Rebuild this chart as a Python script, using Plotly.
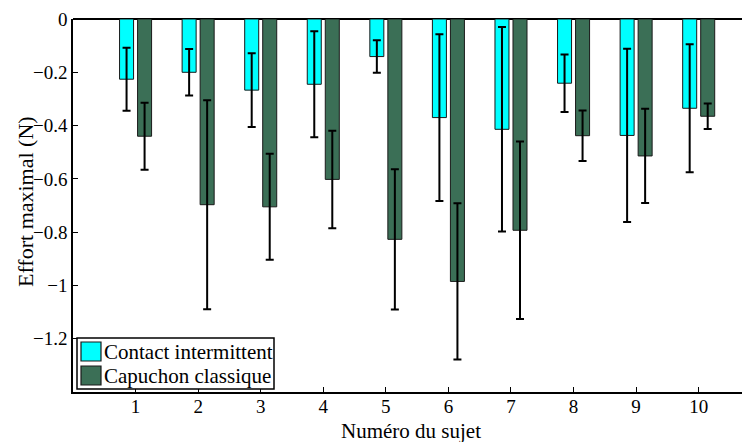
import plotly.graph_objects as go

subjects = [1, 2, 3, 4, 5, 6, 7, 8, 9, 10]
tick_labels = ["1", "2", "3", "4", "5", "6", "7", "8", "9", "10"]

contact_mean = [-0.226, -0.200, -0.267, -0.245, -0.141, -0.370, -0.414, -0.241, -0.437, -0.335]
contact_err = [0.118, 0.087, 0.138, 0.199, 0.061, 0.313, 0.384, 0.108, 0.325, 0.240]

capuchon_mean = [-0.440, -0.697, -0.705, -0.602, -0.827, -0.985, -0.793, -0.438, -0.514, -0.365]
capuchon_err = [0.126, 0.392, 0.199, 0.183, 0.263, 0.293, 0.333, 0.095, 0.177, 0.048]

series_names = ["Contact intermittent", "Capuchon classique"]
series_colors = ["#00FFFF", "#3B6F56"]

y_ticks = [0, -0.2, -0.4, -0.6, -0.8, -1.0, -1.2]
y_tick_labels = ["0", "\u22120.2", "\u22120.4", "\u22120.6", "\u22120.8", "\u22121", "\u22121.2"]

x_title = "Numéro du sujet"
y_title = "Effort maximal (N)"

FONT = "Liberation Serif"
EDGE = "#1a1a1a"

fig = go.Figure()
fig.add_trace(go.Bar(
    x=subjects, y=contact_mean, name=series_names[0],
    width=0.224, offset=-0.256,
    marker=dict(color=series_colors[0], line=dict(color=EDGE, width=1)),
    error_y=dict(type="data", array=contact_err, visible=True,
                 color="black", thickness=2, width=4),
))
fig.add_trace(go.Bar(
    x=subjects, y=capuchon_mean, name=series_names[1],
    width=0.224, offset=0.032,
    marker=dict(color=series_colors[1], line=dict(color=EDGE, width=1)),
    error_y=dict(type="data", array=capuchon_err, visible=True,
                 color="black", thickness=2, width=4),
))

# Custom legend box (MATLAB-style legend), in plot-area fractions
PW, PH = 677.0, 373.0  # plot area size in px


def fx(px):
    return px / PW


def fy(py):
    return py / PH


shapes = [
    dict(type="rect", xref="paper", yref="paper",
         x0=fx(4), x1=fx(201), y0=fy(3), y1=fy(54),
         line=dict(color="black", width=1.5), fillcolor="white", layer="above"),
]
annotations = []
swatch_tops = [50, 26]  # px from plot bottom (top edge of swatch)
for name, color, top in zip(series_names, series_colors, swatch_tops):
    shapes.append(dict(type="rect", xref="paper", yref="paper",
                       x0=fx(8), x1=fx(28), y0=fy(top - 19), y1=fy(top),
                       line=dict(color=EDGE, width=1.2), fillcolor=color, layer="above"))
    annotations.append(dict(text=name, xref="paper", yref="paper",
                            x=fx(29), y=fy(top - 9.5), xanchor="left", yanchor="middle",
                            showarrow=False, font=dict(family=FONT, size=21, color="black")))

# axis titles placed as text to match the reference positions
annotations.append(dict(text=y_title, xref="paper", yref="paper",
                        x=fx(-48), y=fy(190), xanchor="center", yanchor="middle",
                        textangle=-90, showarrow=False,
                        font=dict(family=FONT, size=22, color="black")))
annotations.append(dict(text=x_title, xref="paper", yref="paper",
                        x=fx(338), y=fy(-39), xanchor="center", yanchor="middle",
                        showarrow=False,
                        font=dict(family=FONT, size=21, color="black")))

fig.update_layout(
    width=742, height=434,
    margin=dict(l=65, r=0, t=11, b=50),
    paper_bgcolor="white", plot_bgcolor="white",
    font=dict(family=FONT, size=19, color="black"),
    barmode="overlay",
    showlegend=False,
    shapes=shapes,
    annotations=annotations,
    xaxis=dict(
        range=[0, 10.82],
        tickmode="array", tickvals=subjects, ticktext=tick_labels,
        ticks="inside", ticklen=5, tickcolor="black",
        showline=True, linecolor="black", linewidth=1.5,
        showgrid=False, zeroline=False,
        tickfont=dict(family=FONT, size=19),
        ticklabelstandoff=-4,
        automargin=False,
    ),
    yaxis=dict(
        range=[-1.4, 0],
        tickmode="array", tickvals=y_ticks, ticktext=y_tick_labels,
        ticks="inside", ticklen=5, tickcolor="black",
        showline=True, linecolor="black", linewidth=1.5,
        showgrid=False, zeroline=True, zerolinecolor="black", zerolinewidth=1.5,
        tickfont=dict(family=FONT, size=19),
        automargin=False,
    ),
)

fig.write_html("out.html")
